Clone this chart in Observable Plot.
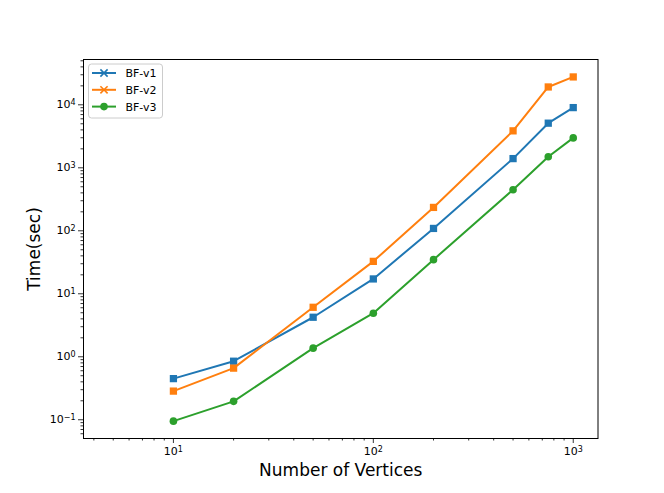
<!DOCTYPE html>
<html>
<head>
<meta charset="utf-8">
<script src="https://cdn.jsdelivr.net/npm/d3@7"></script>
<script src="https://cdn.jsdelivr.net/npm/@observablehq/plot@0.6"></script>
<style>
  html, body { margin: 0; padding: 0; background: white; }
  #wrap { position: relative; width: 664px; height: 493px; }
  #legend { position: absolute; left: 0; top: 0; }
</style>
</head>
<body>
<div id="wrap"></div>
<script>
// ---- data ----
const vertices = [10, 20, 50, 100, 200, 500, 750, 1000];
const bfV1 = [0.45, 0.85, 4.24, 17.2, 109, 1400, 5110, 9030];
const bfV2 = [0.285, 0.66, 6.1, 32.7, 235, 3860, 19200, 27700];
const bfV3 = [0.095, 0.196, 1.37, 4.91, 34.8, 448, 1494, 2985];
const seriesNames = ["BF-v1", "BF-v2", "BF-v3"];
const seriesColors = ["#1f77b4", "#ff7f0e", "#2ca02c"];
const seriesSymbols = ["square", "square", "circle"];
const legendSymbols = ["times", "times", "circle"];
const xMajorTicks = [10, 100, 1000];
const yMajorTicks = [0.1, 1, 10, 100, 1000, 10000];
const xLabel = "Number of Vertices";
const yLabel = "Time(sec)";

const seriesValues = [bfV1, bfV2, bfV3];
const rows = seriesNames.map((name, i) =>
  vertices.map((v, j) => ({series: name, x: v, y: seriesValues[i][j]})));

const xDomain = [3.55, 1330];
const yDomain = [0.0504, 52400];

function minorTicks([lo, hi]) {
  const out = [];
  for (let e = Math.floor(Math.log10(lo)); e <= Math.ceil(Math.log10(hi)); e++) {
    for (let m = 2; m <= 9; m++) {
      const v = m * Math.pow(10, e);
      if (v >= lo && v <= hi) out.push(v);
    }
  }
  return out;
}
const fmtPow = d => "10^" + String(Math.round(Math.log10(d))).replace("-", "\u2212");

const seriesMarks = [];
rows.forEach((data, i) => {
  seriesMarks.push(Plot.line(data, {x: "x", y: "y", stroke: seriesColors[i], strokeWidth: 2}));
  seriesMarks.push(Plot.dot(data, {x: "x", y: "y", fill: seriesColors[i], stroke: "none",
    symbol: seriesSymbols[i], r: seriesSymbols[i] === "square" ? 4.1 : 3.8}));
});

const chart = Plot.plot({
  width: 664,
  height: 493,
  marginLeft: 83,
  marginRight: 66.5,
  marginTop: 59,
  marginBottom: 55,
  x: {type: "log", domain: xDomain},
  y: {type: "log", domain: yDomain},
  style: {fontFamily: "DejaVu Sans", fontSize: "11px", color: "black", background: "white", overflow: "visible"},
  marks: [
    Plot.axisX(minorTicks(xDomain), {tickSize: 2.5, tickFormat: () => "", label: null, strokeWidth: 0.8}),
    Plot.axisY(minorTicks(yDomain), {tickSize: 2.5, tickFormat: () => "", label: null, strokeWidth: 0.8}),
    Plot.axisX(xMajorTicks, {tickSize: 5, tickPadding: 4, tickFormat: fmtPow, label: null, strokeWidth: 0.8, fontSize: 11}),
    Plot.axisY(yMajorTicks, {tickSize: 5, tickPadding: 3, tickFormat: fmtPow, label: null, strokeWidth: 0.8, fontSize: 11}),
    ...seriesMarks,
    Plot.frame({stroke: "black", strokeWidth: 1}),
    Plot.text([xLabel], {frameAnchor: "bottom", dy: 25.5, fontSize: 17, textAnchor: "middle", lineAnchor: "top"}),
    Plot.text([yLabel], {frameAnchor: "left", dx: -49, rotate: -90, fontSize: 17, textAnchor: "middle", lineAnchor: "middle"})
  ]
});
document.getElementById("wrap").appendChild(chart);

// render exponents as raised tspans (like mathtext)
d3.select(chart).selectAll("text").each(function() {
  const t = d3.select(this);
  const s = t.text();
  if (/^10\^/.test(s)) {
    const exp = s.slice(3);
    t.text("");
    t.append("tspan").text("10");
    t.append("tspan").attr("dy", "-0.42em").attr("font-size", "8px").text(exp);
  }
});

// ---- legend overlay ----
const lg = d3.select("#wrap").append("svg")
  .attr("id", "legend").attr("width", 664).attr("height", 493)
  .style("font-family", "DejaVu Sans").style("font-size", "11px");
lg.append("rect").attr("x", 88.5).attr("y", 64).attr("width", 74).attr("height", 54)
  .attr("rx", 3).attr("fill", "white").attr("fill-opacity", 0.8)
  .attr("stroke", "#cccccc").attr("stroke-width", 1);
seriesNames.forEach((name, i) => {
  const cy = 73 + i * 16.8;
  lg.append("line").attr("x1", 92).attr("x2", 116).attr("y1", cy).attr("y2", cy)
    .attr("stroke", seriesColors[i]).attr("stroke-width", 2);
  if (legendSymbols[i] === "times") {
    const s = 3.6;
    lg.append("path").attr("d", `M${104-s},${cy-s}L${104+s},${cy+s}M${104-s},${cy+s}L${104+s},${cy-s}`)
      .attr("stroke", seriesColors[i]).attr("stroke-width", 1.6).attr("fill", "none");
  } else {
    lg.append("circle").attr("cx", 104).attr("cy", cy).attr("r", 3.8).attr("fill", seriesColors[i]);
  }
  lg.append("text").attr("x", 125.5).attr("y", cy).attr("dy", "0.36em").text(name);
});
</script>
</body>
</html>
